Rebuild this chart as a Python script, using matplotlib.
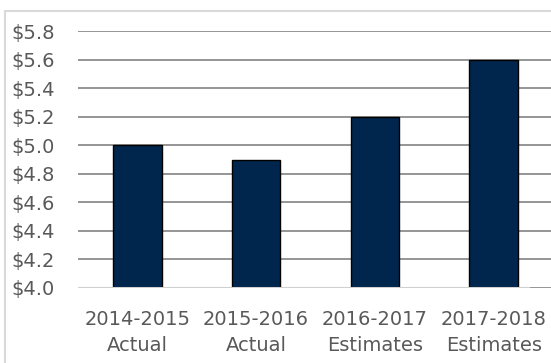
import matplotlib.pyplot as plt
from matplotlib.patches import Rectangle
import numpy as np

# data
categories = ["2014-2015\nActual", "2015-2016\nActual", "2016-2017\nEstimates", "2017-2018\nEstimates"]
values = [5.0, 4.9, 5.2, 5.6]
y_ticks = [4.0, 4.2, 4.4, 4.6, 4.8, 5.0, 5.2, 5.4, 5.6, 5.8]

text_color = "#595959"

fig = plt.figure(figsize=(5.51, 3.63), dpi=100)
ax = fig.add_axes([78 / 551, 1 - 288 / 363, 475 / 551, 257 / 363])

x = np.arange(len(categories))
ax.bar(x, values, width=0.41, color="#00264d", edgecolor="black", linewidth=1, zorder=3)

ax.set_xlim(-0.5, 3.5)
ax.set_ylim(4.0, 5.8)
ax.set_yticks(y_ticks)
ax.set_yticklabels([f"${v:.1f}" for v in y_ticks])
ax.set_xticks(x)
ax.set_xticklabels(categories, linespacing=1.45)

ax.grid(axis="y", color="#8c8c8c", linewidth=1.3, zorder=0)
ax.set_axisbelow(True)
for s in ax.spines.values():
    s.set_visible(False)
# light baseline
ax.axhline(4.0, xmin=0, xmax=(528 - 78) / 475, color="#d0d0d0", linewidth=2.2, zorder=4)

ax.tick_params(axis="both", length=0, labelsize=14, labelcolor=text_color)
ax.tick_params(axis="y", pad=16.5)
ax.tick_params(axis="x", pad=16)

# chart border
fig.patches.append(Rectangle((5 / 551, -0.05), 1.0, 1 - 11 / 363 + 0.05, transform=fig.transFigure,
                             fill=False, edgecolor="#d9d9d9", linewidth=1.5))

fig.savefig("out.png", dpi=100)
